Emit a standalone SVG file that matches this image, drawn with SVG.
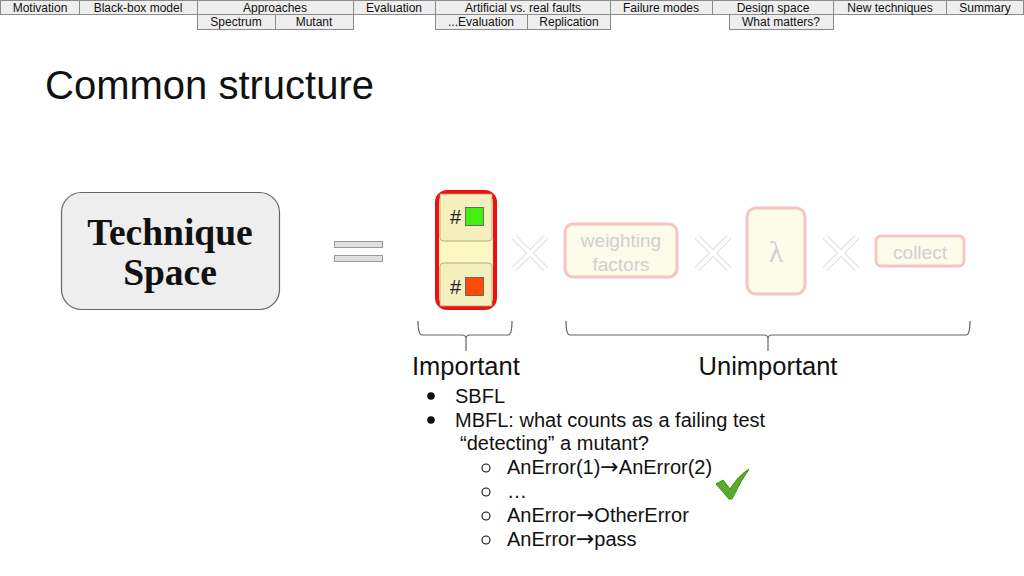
<svg xmlns="http://www.w3.org/2000/svg" width="1024" height="576" viewBox="0 0 1024 576">
<defs>
<style>
.nav{fill:#eeeeee;stroke:#8a8a8a;stroke-width:1}
.navt{font-family:"Liberation Sans",Arial,sans-serif;font-size:12px;fill:#111;text-anchor:middle}
.sans{font-family:"Liberation Sans",Arial,sans-serif}
.faint{fill:#fdfbea;stroke:#f7c4c4;stroke-width:3}
.faintt{font-family:"Liberation Sans",Arial,sans-serif;fill:#d0d0d0;text-anchor:middle}
.xo{stroke:#dcdcdc;stroke-width:6;fill:none}
.xi{stroke:#ffffff;stroke-width:4;fill:none}
.brace{fill:none;stroke:#666;stroke-width:1.2}
.txt{font-family:"Liberation Sans",Arial,sans-serif;font-size:20px;fill:#111}
.arr{font-family:"DejaVu Sans",sans-serif;font-size:22px}
</style>
<path id="xs" d="M0,0 L32,32 M32,0 L0,32"/>
</defs>
<rect width="1024" height="576" fill="#ffffff"/>
<g id="nav">
<rect class="nav" x="0.5" y="0.5" width="79" height="14"/><text class="navt" x="40" y="12">Motivation</text>
<rect class="nav" x="79.5" y="0.5" width="118" height="14"/><text class="navt" x="138" y="12">Black-box model</text>
<rect class="nav" x="197.5" y="0.5" width="156" height="14"/><text class="navt" x="275" y="12">Approaches</text>
<rect class="nav" x="353.5" y="0.5" width="82" height="14"/><text class="navt" x="394" y="12">Evaluation</text>
<rect class="nav" x="435.5" y="0.5" width="175" height="14"/><text class="navt" x="523" y="12">Artificial vs. real faults</text>
<rect class="nav" x="610.5" y="0.5" width="102" height="14"/><text class="navt" x="661" y="12">Failure modes</text>
<rect class="nav" x="712.5" y="0.5" width="121" height="14"/><text class="navt" x="773" y="12">Design space</text>
<rect class="nav" x="833.5" y="0.5" width="113" height="14"/><text class="navt" x="890" y="12">New techniques</text>
<rect class="nav" x="946.5" y="0.5" width="77" height="14"/><text class="navt" x="985" y="12">Summary</text>
<rect class="nav" x="197.5" y="14.5" width="78" height="15"/><text class="navt" x="236" y="26">Spectrum</text>
<rect class="nav" x="275.5" y="14.5" width="78" height="15"/><text class="navt" x="314" y="26">Mutant</text>
<rect class="nav" x="435.5" y="14.5" width="92" height="15"/><text class="navt" x="481" y="26">...Evaluation</text>
<rect class="nav" x="527.5" y="14.5" width="83" height="15"/><text class="navt" x="569" y="26">Replication</text>
<rect class="nav" x="729.5" y="14.5" width="104" height="15"/><text class="navt" x="781" y="26">What matters?</text>
</g>
<text class="sans" x="45" y="99" font-size="40" fill="#111">Common structure</text>
<g id="technique-space">
<rect x="61.5" y="192.5" width="218" height="117" rx="20" fill="#eeeeee" stroke="#666" stroke-width="1.2"/>
<text x="170" y="245" font-family="Liberation Serif,'DejaVu Serif',serif" font-weight="bold" font-size="37.5" text-anchor="middle" fill="#111">Technique</text>
<text x="170" y="285" font-family="Liberation Serif,'DejaVu Serif',serif" font-weight="bold" font-size="37.5" text-anchor="middle" fill="#111">Space</text>
</g>
<g id="equals">
<rect x="334.5" y="241.5" width="48" height="6" fill="#e0e0e0" stroke="#9a9a9a"/>
<rect x="334.5" y="255.5" width="48" height="6" fill="#e0e0e0" stroke="#9a9a9a"/>
</g>
<g id="counts">
<rect x="437" y="192" width="58" height="116" rx="10" fill="#fcf8c4" stroke="#ee1111" stroke-width="4"/>
<path d="M440,194 h52 v44 q0,3 -4,3 h-44 q-4,0 -4,-3 z" fill="#f5efbe" stroke="#a89a70" stroke-width="0.8"/>
<path d="M440,306 h52 v-40 q0,-3 -4,-3 h-44 q-4,0 -4,3 z" fill="#f5efbe" stroke="#a89a70" stroke-width="0.8"/>
<text class="sans" x="450" y="224" font-size="20" fill="#222">#</text>
<rect x="465.5" y="207.5" width="18" height="18" fill="#44ee11" stroke="#555" stroke-width="0.8"/>
<text class="sans" x="450" y="294" font-size="20" fill="#222">#</text>
<rect x="465.5" y="277.5" width="18" height="18" fill="#ff4a0a" stroke="#555" stroke-width="0.8"/>
</g>
<g id="times">
<use href="#xs" class="xo" x="514" y="237"/><use href="#xs" class="xi" x="514" y="237"/>
<use href="#xs" class="xo" x="697" y="237"/><use href="#xs" class="xi" x="697" y="237"/>
<use href="#xs" class="xo" x="825" y="237"/><use href="#xs" class="xi" x="825" y="237"/>
</g>
<g id="weighting">
<rect class="faint" x="565" y="224" width="112" height="53" rx="8"/>
<text class="faintt" x="621" y="247" font-size="19">weighting</text>
<text class="faintt" x="621" y="271" font-size="19">factors</text>
</g>
<g id="lambda">
<rect class="faint" x="747" y="208" width="58" height="86" rx="9"/>
<text x="776" y="262" font-family="Liberation Serif,serif" font-size="30" fill="#d0d0d0" text-anchor="middle">λ</text>
</g>
<g id="collect">
<rect class="faint" x="876" y="236" width="88" height="30" rx="5"/>
<text class="faintt" x="920" y="259" font-size="19">collect</text>
</g>
<g id="braces">
<path class="brace" d="M418,321 q0,14 4,14 h40 q4,0 4,4 v12 M466,339 q0,-4 4,-4 h38 q4,0 4,-14"/>
<path class="brace" d="M566,321 q0,14 4,14 h194 q4,0 4,4 v12 M768,339 q0,-4 4,-4 h194 q4,0 4,-14"/>
</g>
<text class="sans" x="412" y="375" font-size="25.5" fill="#111">Important</text>
<text class="sans" x="768" y="375" font-size="25.5" fill="#111" text-anchor="middle">Unimportant</text>
<g id="list">
<circle cx="431" cy="396" r="3.8" fill="#111"/>
<text class="txt" x="455" y="403">SBFL</text>
<circle cx="431" cy="420" r="3.8" fill="#111"/>
<text class="txt" x="455" y="427">MBFL: what counts as a failing test</text>
<text class="txt" x="460" y="450">“detecting” a mutant?</text>
<circle cx="486" cy="468" r="4" fill="none" stroke="#111" stroke-width="1.1"/>
<text class="txt" x="507" y="474">AnError(1)<tspan class="arr">→</tspan>AnError(2)</text>
<circle cx="486" cy="492" r="4" fill="none" stroke="#111" stroke-width="1.1"/>
<text class="txt" x="507" y="498">…</text>
<circle cx="486" cy="516" r="4" fill="none" stroke="#111" stroke-width="1.1"/>
<text class="txt" x="507" y="522">AnError<tspan class="arr">→</tspan>OtherError</text>
<circle cx="486" cy="540" r="4" fill="none" stroke="#111" stroke-width="1.1"/>
<text class="txt" x="507" y="546">AnError<tspan class="arr">→</tspan>pass</text>
</g>
<g id="check">
<path d="M716,484 L723,480 L730,489 Q738,476 749,469 Q740,482 732,499 L729,499 Z" fill="#5aab2a" stroke="#3d8a1a" stroke-width="1"/>
</g>
</svg>
